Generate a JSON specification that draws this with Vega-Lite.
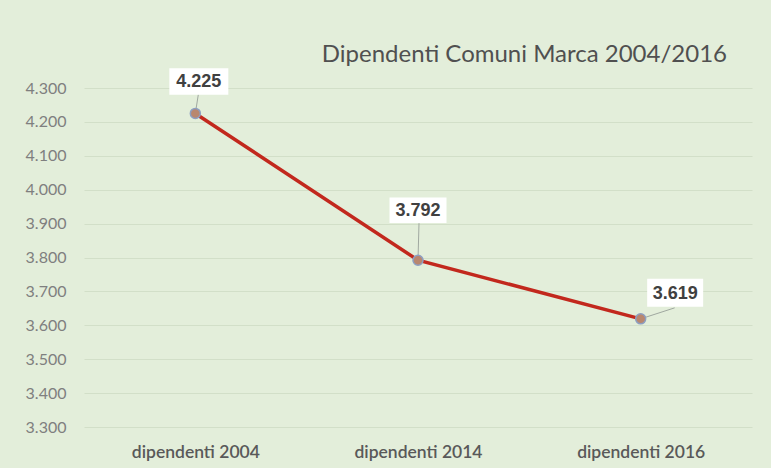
{
  "$schema": "https://vega.github.io/schema/vega-lite/v6.json",
  "width": 668,
  "height": 339,
  "autosize": {"type": "none"},
  "padding": {"left": 84, "top": 88, "right": 19, "bottom": 41},
  "background": "#e3eeda",
  "config": {
    "view": {"stroke": null},
    "locale": {"number": {"decimal": ",", "thousands": ".", "grouping": [3], "currency": ["", " €"]}}
  },
  "title": {
    "text": "Dipendenti Comuni Marca 2004/2016",
    "anchor": "end",
    "frame": "group",
    "dx": -25,
    "dy": 44,
    "offset": 26,
    "baseline": "alphabetic",
    "font": "Lato",
    "fontSize": 24,
    "fontWeight": "normal",
    "color": "#505050"
  },
  "data": {
    "values": [
      {"categoria": "dipendenti 2004", "dipendenti": 4225},
      {"categoria": "dipendenti 2014", "dipendenti": 3792},
      {"categoria": "dipendenti 2016", "dipendenti": 3619}
    ]
  },
  "encoding": {
    "x": {
      "field": "categoria",
      "type": "nominal",
      "sort": null,
      "scale": {"type": "point", "padding": 0.5},
      "axis": {
        "title": null,
        "domain": false,
        "ticks": false,
        "grid": false,
        "labelAngle": 0,
        "labelPadding": 16,
        "labelFont": "Lato",
        "labelFontSize": 17.5,
        "labelFontWeight": 600,
        "labelColor": "#595959"
      }
    },
    "y": {
      "field": "dipendenti",
      "type": "quantitative",
      "scale": {"domain": [3300, 4300], "nice": false, "zero": false},
      "axis": {
        "title": null,
        "domain": false,
        "ticks": false,
        "values": [3300, 3400, 3500, 3600, 3700, 3800, 3900, 4000, 4100, 4200, 4300],
        "format": ",d",
        "labelPadding": 18,
        "labelFont": "Lato",
        "labelFontSize": 16,
        "labelColor": "#7f7f7f",
        "gridColor": "#d2dfc8",
        "gridWidth": 1
      }
    }
  },
  "layer": [
    {
      "mark": {"type": "line", "color": "#c2281d", "strokeWidth": 3.5}
    },
    {
      "transform": [{"filter": "datum.categoria == 'dipendenti 2004'"}],
      "layer": [
        {
          "mark": {"type": "rule", "color": "#a0a8a0", "strokeWidth": 1, "x2Offset": 3, "y2Offset": -19},
          "encoding": {"x2": {"field": "categoria"}, "y2": {"field": "dipendenti"}}
        },
        {
          "mark": {"type": "point", "shape": "M-1,-0.45L1,-0.45L1,0.45L-1,0.45Z", "size": 3481, "filled": true, "fill": "white", "opacity": 1, "strokeWidth": 0, "xOffset": 3.5, "yOffset": -32}
        },
        {
          "mark": {"type": "text", "font": "Liberation Sans", "fontSize": 18, "fontWeight": "bold", "color": "#404040", "align": "center", "baseline": "middle", "xOffset": 3.5, "yOffset": -31},
          "encoding": {"text": {"field": "dipendenti", "type": "quantitative", "format": ",d"}}
        }
      ]
    },
    {
      "transform": [{"filter": "datum.categoria == 'dipendenti 2014'"}],
      "layer": [
        {
          "mark": {"type": "rule", "color": "#a0a8a0", "strokeWidth": 1, "x2Offset": 1, "y2Offset": -37},
          "encoding": {"x2": {"field": "categoria"}, "y2": {"field": "dipendenti"}}
        },
        {
          "mark": {"type": "point", "shape": "M-1,-0.45L1,-0.45L1,0.45L-1,0.45Z", "size": 3249, "filled": true, "fill": "white", "opacity": 1, "strokeWidth": 0, "xOffset": 0, "yOffset": -50}
        },
        {
          "mark": {"type": "text", "font": "Liberation Sans", "fontSize": 18, "fontWeight": "bold", "color": "#404040", "align": "center", "baseline": "middle", "xOffset": 0, "yOffset": -49},
          "encoding": {"text": {"field": "dipendenti", "type": "quantitative", "format": ",d"}}
        }
      ]
    },
    {
      "transform": [{"filter": "datum.categoria == 'dipendenti 2016'"}],
      "layer": [
        {
          "mark": {"type": "rule", "color": "#a0a8a0", "strokeWidth": 1, "x2Offset": 34, "y2Offset": -11},
          "encoding": {"x2": {"field": "categoria"}, "y2": {"field": "dipendenti"}}
        },
        {
          "mark": {"type": "point", "shape": "M-1,-0.5L1,-0.5L1,0.5L-1,0.5Z", "size": 3136, "filled": true, "fill": "white", "opacity": 1, "strokeWidth": 0, "xOffset": 34.5, "yOffset": -26}
        },
        {
          "mark": {"type": "text", "font": "Liberation Sans", "fontSize": 18, "fontWeight": "bold", "color": "#404040", "align": "center", "baseline": "middle", "xOffset": 34.5, "yOffset": -25},
          "encoding": {"text": {"field": "dipendenti", "type": "quantitative", "format": ",d"}}
        }
      ]
    },
    {
      "mark": {"type": "point", "filled": true, "size": 100, "fill": "#b9876f", "stroke": "#8d9fc2", "strokeWidth": 1.5, "opacity": 1}
    }
  ]
}
